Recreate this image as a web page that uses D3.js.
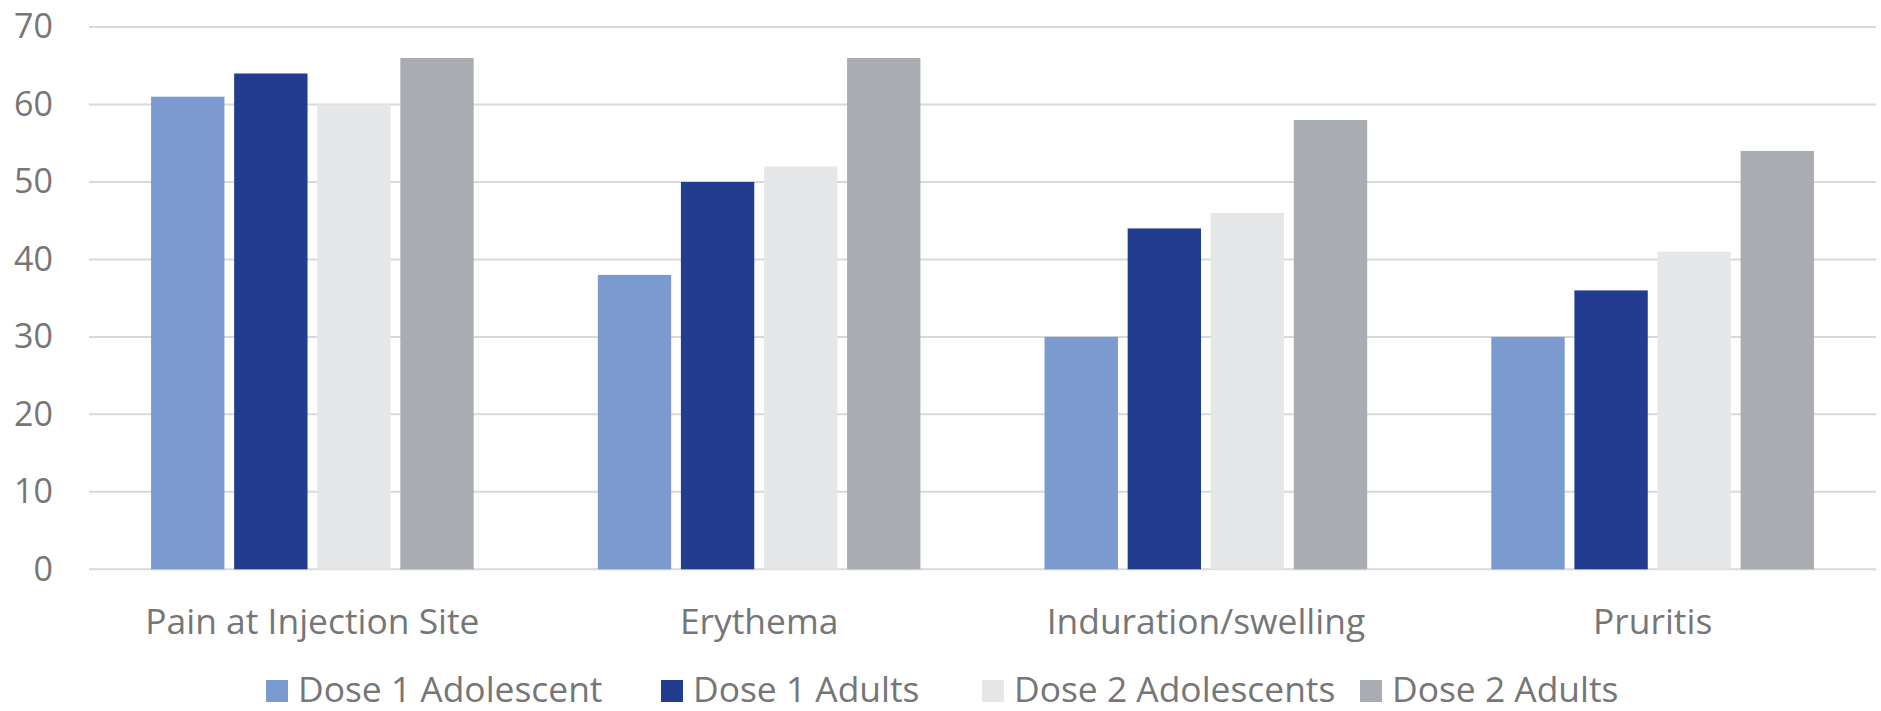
<!DOCTYPE html>
<html>
<head>
<meta charset="utf-8">
<script src="https://cdn.jsdelivr.net/npm/d3@7"></script>
<style>
  html, body { margin: 0; padding: 0; background: #fff; }
  svg { display: block; }
  text { font-family: "Open Sans", "Noto Sans", sans-serif; fill: #767676; }
</style>
</head>
<body>
<svg id="chart" width="1881" height="711"></svg>
<script>
// Local reactions (%) by dose and age group
const categories = ["Pain at Injection Site", "Erythema", "Induration/swelling", "Pruritis"];
const seriesNames = ["Dose 1 Adolescent", "Dose 1 Adults", "Dose 2 Adolescents", "Dose 2 Adults"];
const dose1Adolescent = [61, 38, 30, 30];
const dose1Adults = [64, 50, 44, 36];
const dose2Adolescents = [60, 52, 46, 41];
const dose2Adults = [66, 66, 58, 54];
const yTicks = [0, 10, 20, 30, 40, 50, 60, 70];
const colors = ["#7b9acf", "#223d8f", "#e6e7e9", "#a9acb0"];

const seriesValues = [dose1Adolescent, dose1Adults, dose2Adolescents, dose2Adults];

const svg = d3.select("#chart");
const plot = { left: 89, right: 1876, top: 27, bottom: 569.3 };

const x0 = d3.scaleBand().domain(categories).range([plot.left, plot.right]).paddingInner(0).paddingOuter(0);
const x1 = d3.scaleBand().domain(seriesNames).range([0, x0.bandwidth()]).paddingInner(0.117).paddingOuter(0.747);
const y = d3.scaleLinear().domain([0, 70]).range([plot.bottom, plot.top]);

// Gridlines
svg.append("g")
  .selectAll("line")
  .data(yTicks)
  .join("line")
  .attr("x1", plot.left).attr("x2", plot.right)
  .attr("y1", d => y(d)).attr("y2", d => y(d))
  .attr("stroke", "#d9d9d9").attr("stroke-width", 2);

// Y axis labels
const yAxis = d3.axisLeft(y).tickValues(yTicks).tickSize(0).tickPadding(0);
const yg = svg.append("g").attr("transform", `translate(53,0)`).call(yAxis);
yg.select(".domain").remove();
yg.selectAll("text").style("font-size", "34px").attr("fill", "#767676");

// Bars
const groups = svg.append("g")
  .selectAll("g")
  .data(categories)
  .join("g")
  .attr("transform", d => `translate(${x0(d)},0)`);

groups.selectAll("rect")
  .data((c, ci) => seriesNames.map((s, si) => ({ s, si, v: seriesValues[si][ci] })))
  .join("rect")
  .attr("x", d => x1(d.s))
  .attr("width", x1.bandwidth())
  .attr("y", d => y(d.v))
  .attr("height", d => y(0) - y(d.v))
  .attr("fill", d => colors[d.si]);

// Category labels
const xAxis = d3.axisBottom(x0).tickSize(0).tickPadding(0);
const xg = svg.append("g").attr("transform", `translate(0,${plot.bottom})`).call(xAxis);
xg.select(".domain").remove();
xg.selectAll("text").attr("dy", null).attr("y", 634 - plot.bottom)
  .style("font-size", "35.4px").attr("fill", "#767676");

// Legend
const legendX = [266, 661, 982, 1360];
const legend = svg.append("g")
  .selectAll("g")
  .data(seriesNames)
  .join("g")
  .attr("transform", (d, i) => `translate(${legendX[i]},680)`);
legend.append("rect").attr("width", 22).attr("height", 22).attr("fill", (d, i) => colors[i]);
legend.append("text").attr("x", 32).attr("y", 22).style("font-size", "35.4px").text(d => d);
</script>
</body>
</html>
